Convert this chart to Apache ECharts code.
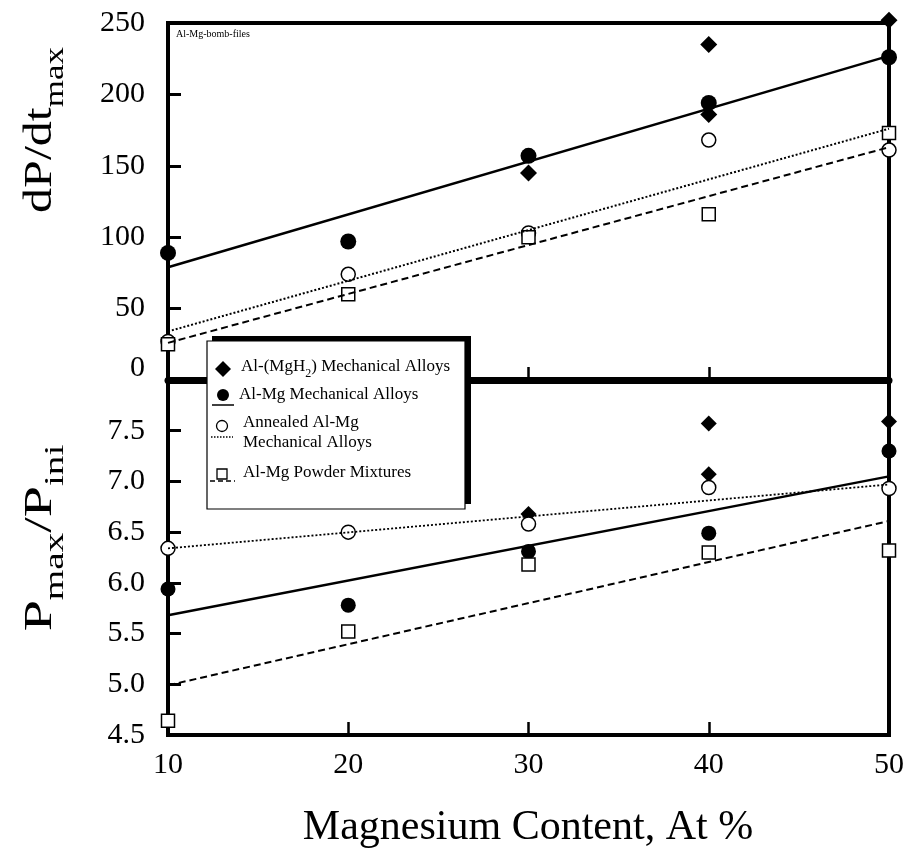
<!DOCTYPE html>
<html><head><meta charset="utf-8">
<script src="https://cdn.jsdelivr.net/npm/echarts@6/dist/echarts.min.js"></script>
<style>html,body{margin:0;padding:0;background:#fff}#c{width:909px;height:853px}</style>
</head><body><div id="c"></div>
<script>
// ---- data ----
const xValues = [10, 20, 30, 40, 50];
const diamondX = [30, 40, 40, 50];
const fitX = [10, 50];

// top panel: dP/dt max
const topDiamond = [145, 235, 186, 252];
const topFilled = [89, 97, 157, 194, 226];
const topOpen = [27, 74, 103, 168, 161];
const topSquare = [25, 60, 100, 116, 173];
const topFitSolid = [79, 227];
const topFitDotted = [34, 176];
const topFitDashed = [26, 163];

// bottom panel: Pmax/Pini
const botDiamond = [6.68, 7.57, 7.07, 7.59];
const botFilled = [5.94, 5.78, 6.31, 6.49, 7.30];
const botOpen = [6.34, 6.50, 6.58, 6.94, 6.93];
const botSquare = [4.64, 5.52, 6.18, 6.30, 6.32];
const botFitSolid = [5.68, 7.05];
const botFitDotted = [6.34, 6.97];
const botFitDashed = [4.99, 6.61];

const legendLabels = [
  '{m|Al-(MgH}{s|2}{m|) Mechanical Alloys}',
  'Al-Mg Mechanical Alloys',
  'Annealed Al-Mg',
  'Mechanical Alloys',
  'Al-Mg Powder Mixtures'
];
const topTitle = '{m|dP/dt}{s|max}';
const botTitle = '{m|P}{s|max}{m|/P}{s|ini}';
const xTitle = 'Magnesium Content, At %';
const fileNote = 'Al-Mg-bomb-files';

// ---- chart ----
const FF = 'Liberation Serif';
const pair = (xs, ys) => ys.map((y, i) => [xs[i], y]);

function scatter(gi, name, xs, ys, symbol, size, filled) {
  return {
    type: 'scatter', name, xAxisIndex: gi, yAxisIndex: gi, clip: false, z: 3,
    symbol, symbolSize: size, data: pair(xs, ys),
    itemStyle: filled ? { color: '#000', opacity: 1 } : { color: '#fff', borderColor: '#000', borderWidth: 1.5, opacity: 1 },
    emphasis: { disabled: true }
  };
}
function fit(gi, ys, type, width) {
  return {
    type: 'line', xAxisIndex: gi, yAxisIndex: gi, symbol: 'none', z: 4, clip: false,
    data: pair(fitX, ys), lineStyle: { color: '#000', width, type, opacity: 1 },
    emphasis: { disabled: true }
  };
}

const axisTick = { inside: true, length: 13, lineStyle: { color: '#000', width: 3 } };
const labelBase = { color: '#000', fontFamily: FF, fontSize: 30 };
const titleRich = {
  m: { fontFamily: FF, fontSize: 40, fill: '#000', verticalAlign: 'bottom', padding: [0, 0, 9, 0] },
  s: { fontFamily: FF, fontSize: 28, fill: '#000', verticalAlign: 'bottom' }
};

const option = {
  animation: false,
  backgroundColor: '#fff',
  grid: [
    { left: 168, top: 23, width: 721, height: 357, show: true, borderColor: '#000', borderWidth: 4, backgroundColor: 'transparent', outerBoundsMode: 'none' },
    { left: 168, top: 380, width: 721, height: 355, show: true, borderColor: '#000', borderWidth: 4, backgroundColor: 'transparent', outerBoundsMode: 'none' }
  ],
  xAxis: [
    { gridIndex: 0, type: 'value', min: 10, max: 50, interval: 10,
      axisLine: { show: true, onZero: false, lineStyle: { color: '#000', width: 7 } },
      axisTick: { inside: true, length: 13, lineStyle: { color: '#000', width: 2.5 } },
      axisLabel: { show: false }, splitLine: { show: false } },
    { gridIndex: 1, type: 'value', min: 10, max: 50, interval: 10,
      axisLine: { show: true, onZero: false, lineStyle: { color: '#000', width: 4 } },
      axisTick: { inside: true, length: 13, lineStyle: { color: '#000', width: 2.5 } },
      axisLabel: Object.assign({ margin: 15 }, labelBase), splitLine: { show: false } }
  ],
  yAxis: [
    { gridIndex: 0, type: 'value', min: 0, max: 250, interval: 50,
      axisLine: { show: true, onZero: false, lineStyle: { color: '#000', width: 4 } },
      axisTick, splitLine: { show: false },
      axisLabel: Object.assign({ margin: 23,
        formatter: v => v === 0 ? '{z|0}' : String(v),
        rich: { z: { fontFamily: FF, fontSize: 30, color: '#000', padding: [0, 0, 24, 0] } } }, labelBase) },
    { gridIndex: 1, type: 'value', min: 4.5, max: 8, interval: 0.5,
      axisLine: { show: true, onZero: false, lineStyle: { color: '#000', width: 4 } },
      axisTick, splitLine: { show: false },
      axisLabel: Object.assign({ margin: 23, formatter: v => v >= 8 ? '' : v.toFixed(1) }, labelBase) }
  ],
  series: [
    scatter(0, 'Al-(MgH2) Mechanical Alloys', diamondX, topDiamond, 'diamond', 17, true),
    scatter(0, 'Al-Mg Mechanical Alloys', xValues, topFilled, 'circle', 16, true),
    scatter(0, 'Annealed Al-Mg Mechanical Alloys', xValues, topOpen, 'circle', 14, false),
    scatter(0, 'Al-Mg Powder Mixtures', xValues, topSquare, 'rect', 13, false),
    fit(0, topFitSolid, 'solid', 2.5),
    fit(0, topFitDotted, [2, 2], 2),
    fit(0, topFitDashed, [7, 4], 2),
    scatter(1, 'Al-(MgH2) Mechanical Alloys', diamondX, botDiamond, 'diamond', 16, true),
    scatter(1, 'Al-Mg Mechanical Alloys', xValues, botFilled, 'circle', 15, true),
    scatter(1, 'Annealed Al-Mg Mechanical Alloys', xValues, botOpen, 'circle', 14, false),
    scatter(1, 'Al-Mg Powder Mixtures', xValues, botSquare, 'rect', 13, false),
    fit(1, botFitSolid, 'solid', 2.5),
    fit(1, botFitDotted, [2, 2], 1.8),
    fit(1, botFitDashed, [7, 4], 2)
  ],
  graphic: [
    // legend box with heavy shadow on top/right
    { type: 'rect', z: 100, shape: { x: 212, y: 336, width: 259, height: 168 }, style: { fill: '#000' } },
    { type: 'rect', z: 101, shape: { x: 207, y: 341, width: 258, height: 168 }, style: { fill: '#fff', stroke: '#000', lineWidth: 1.2 } },
    { type: 'polygon', z: 102, shape: { points: [[223, 361], [231, 369], [223, 377], [215, 369]] }, style: { fill: '#000' } },
    { type: 'text', z: 102, x: 241, y: 369, style: { text: legendLabels[0], align: 'left', verticalAlign: 'middle',
        rich: { m: { fontFamily: FF, fontSize: 17, fill: '#000', verticalAlign: 'bottom', padding: [0, 0, 4, 0] },
                s: { fontFamily: FF, fontSize: 12, fill: '#000', verticalAlign: 'bottom' } } } },
    { type: 'circle', z: 102, shape: { cx: 223, cy: 395, r: 6 }, style: { fill: '#000' } },
    { type: 'line', z: 102, shape: { x1: 212, y1: 405, x2: 234, y2: 405 }, style: { stroke: '#000', lineWidth: 1.5 } },
    { type: 'text', z: 102, x: 239, y: 395, style: { text: legendLabels[1], font: '17px "Liberation Serif"', fill: '#000', align: 'left', verticalAlign: 'middle' } },
    { type: 'circle', z: 102, shape: { cx: 222, cy: 426, r: 5.5 }, style: { fill: '#fff', stroke: '#000', lineWidth: 1.3 } },
    { type: 'line', z: 102, shape: { x1: 211, y1: 437, x2: 233, y2: 437 }, style: { stroke: '#000', lineWidth: 1.3, lineDash: [1.5, 1.5] } },
    { type: 'text', z: 102, x: 243, y: 423, style: { text: legendLabels[2], font: '17px "Liberation Serif"', fill: '#000', align: 'left', verticalAlign: 'middle' } },
    { type: 'text', z: 102, x: 243, y: 443, style: { text: legendLabels[3], font: '17px "Liberation Serif"', fill: '#000', align: 'left', verticalAlign: 'middle' } },
    { type: 'rect', z: 102, shape: { x: 217, y: 469, width: 10, height: 10 }, style: { fill: '#fff', stroke: '#000', lineWidth: 1.3 } },
    { type: 'line', z: 102, shape: { x1: 210, y1: 481, x2: 235, y2: 481 }, style: { stroke: '#000', lineWidth: 1.3, lineDash: [5, 3] } },
    { type: 'text', z: 102, x: 243, y: 473, style: { text: legendLabels[4], font: '17px "Liberation Serif"', fill: '#000', align: 'left', verticalAlign: 'middle' } },
    // file note
    { type: 'text', z: 102, x: 176, y: 34, style: { text: fileNote, font: '10px "Liberation Serif"', fill: '#000', align: 'left', verticalAlign: 'middle' } },
    // axis titles
    { type: 'text', z: 102, x: 528, y: 828, style: { text: xTitle, font: '42px "Liberation Serif"', fill: '#000', align: 'center', verticalAlign: 'middle' } },
    { type: 'text', z: 102, x: 45, y: 130, rotation: Math.PI / 2, scaleX: 1.25, style: { text: topTitle, align: 'center', verticalAlign: 'middle', rich: titleRich } },
    { type: 'text', z: 102, x: 45, y: 538, rotation: Math.PI / 2, scaleX: 1.4, style: { text: botTitle, align: 'center', verticalAlign: 'middle', rich: titleRich } }
  ]
};

const chart = echarts.init(document.getElementById('c'), null, { renderer: 'canvas' });
chart.setOption(option);
</script>
</body></html>
